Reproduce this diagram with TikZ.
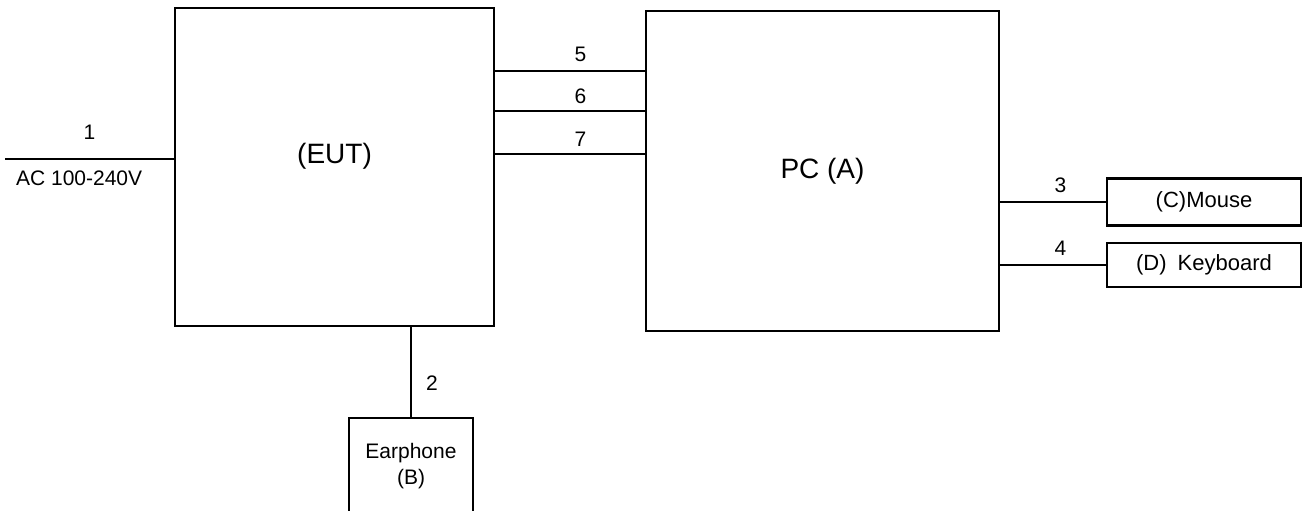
\documentclass[tikz,border=0pt]{standalone}
\usepackage{fontspec}
\setmainfont{Liberation Sans}
\usetikzlibrary{positioning, calc}
\tikzset{
  every picture/.style={line width=2.2pt},
  box/.style={draw, rectangle, inner sep=0pt, align=center, font=\fontsize{21}{26}\selectfont},
  unit/.style={box, font=\fontsize{28}{33}\selectfont},
  wire/.style={draw, line width=2.2pt},
  lbl/.style={font=\fontsize{21}{25}\selectfont, inner sep=2pt},
}
\begin{document}
\begin{tikzpicture}[x=1pt, y=-1pt]
  \useasboundingbox (0,0) rectangle (1303,511);
  % units
  \node[unit, minimum width=319pt, minimum height=318pt,
        label={[unit, draw=none, yshift=11pt]center:(EUT)}] (eut) at (334.5,167) {};
  \node[unit, minimum width=353pt, minimum height=320pt] (pc) at (822.5,171) {PC (A)};
  \node[box, font=\fontsize{22}{26}\selectfont, minimum width=194pt, minimum height=47pt] (mouse) at (1204,202) {(C)Mouse};
  \node[box, font=\fontsize{22}{26}\selectfont, minimum width=194pt, minimum height=44pt] (kbd) at (1204,265) {(D)\enspace Keyboard};
  \node[box, minimum width=124pt, minimum height=96pt] (earph) at (411,466) {Earphone\\(B)};
  % power in
  \coordinate (ac) at (5,159);
  \draw[wire] (ac) -- node[lbl, above=16pt] {1} (ac -| eut.west);
  \node[lbl, anchor=west] (acv) at (13,178) {AC 100-240V};
  % cables
  \draw[wire] (eut.south -| earph.north) -- node[lbl, right=12pt, pos=0.62] {2} (earph.north);
  \draw[wire] (eut.east |- 0,71) -- node[lbl, above=6pt, pos=0.57] {5} (pc.west |- 0,71);
  \draw[wire] (eut.east |- 0,111) -- node[lbl, above=4pt, pos=0.57] {6} (pc.west |- 0,111);
  \draw[wire] (eut.east |- 0,154) -- node[lbl, above=4pt, pos=0.57] {7} (pc.west |- 0,154);
  \draw[wire] (pc.east |- mouse.west) -- node[lbl, above=6pt, pos=0.57] {3} (mouse.west);
  \draw[wire] (pc.east |- kbd.west) -- node[lbl, above=6pt, pos=0.57] {4} (kbd.west);
\end{tikzpicture}
\end{document}
